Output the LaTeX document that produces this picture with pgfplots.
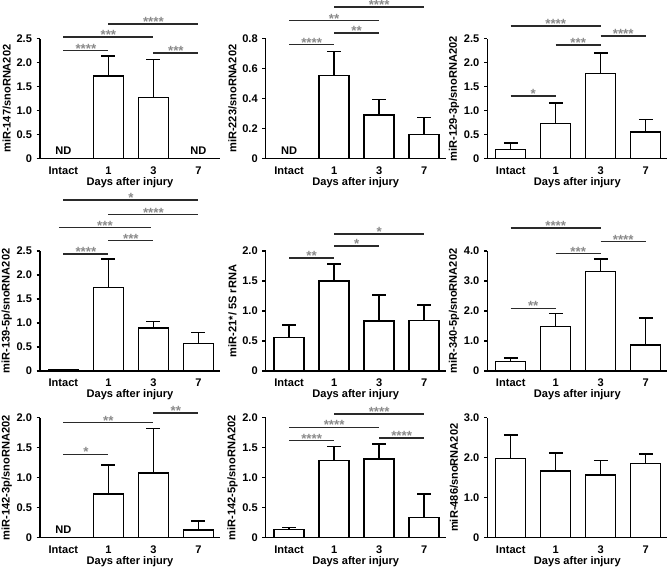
\documentclass[border=0pt]{standalone}
\usepackage{pgfplots}
\pgfplotsset{compat=1.18}
\usepackage{fontspec}
\setmainfont{Liberation Sans}
\definecolor{stargray}{HTML}{8A8A8A}
\definecolor{linegray}{HTML}{2A2A2A}
\newcommand{\lf}{\bfseries\fontsize{8.3}{9}\selectfont}
\newcommand{\starfont}{\bfseries\fontsize{10}{10}\selectfont}
\newcommand{\sig}[4]{\draw[linegray, line width=1.1pt] (axis cs:#1,#3) -- (axis cs:#2,#3) node[midway, anchor=base, yshift=-2pt, inner sep=0pt, text=stargray, font=\starfont] {#4};}
\newcommand{\nd}[1]{\node[anchor=base, font=\lf, inner sep=0pt] at (axis cs:#1,0) [yshift=3pt] {ND};}
\pgfplotsset{
  panel/.style={
    scale only axis, width=135pt, height=90pt,
    anchor=south west,
    xmin=-0.52, xmax=3.48, ymin=0,
    axis lines*=left,
    axis line style={line width=1.1pt},
    xtick={0,1,2,3}, xticklabels={Intact,1,3,7},
    major x tick style={draw=none},
    tick align=outside, major tick length=2.5pt,
    major y tick style={line width=1.1pt, black},
    ticklabel style={font=\lf},
    /pgf/number format/assume math mode=true,
    xlabel={Days after injury},
    every axis x label/.style={at={(axis description cs:0.5,0)}, yshift=-18pt, anchor=center, font=\lf},
    every axis y label/.style={at={(axis description cs:0,0.5)}, xshift=-25pt, rotate=90, anchor=center, font=\lf},
    clip=false,
    ybar, bar width=0.667,
  },
  barplot/.style={fill=white, draw=black, line width=1.1pt,
    error bars/.cd, y dir=plus, y explicit,
    error bar style={line width=1.1pt, black},
    error mark options={rotate=90, mark size=5.2pt, line width=1.1pt, black}},
}
\begin{document}
\begin{tikzpicture}
\useasboundingbox (0,0) rectangle (504pt,426pt);
% Panel 1
\begin{axis}[panel, at={(30pt,307pt)}, ymax=2.5, ytick={0,0.5,1,1.5,2,2.5}, yticklabels={0,0.5,1.0,1.5,2.0,2.5}, ylabel={miR-147/snoRNA202}]
\addplot[barplot] coordinates {(1,1.72) +- (0,0.42) (2,1.27) +- (0,0.80)};
\nd{0}\nd{3}
\sig{0}{1}{2.25}{****}
\sig{0}{2}{2.53}{***}
\sig{1}{3}{2.81}{****}
\sig{2}{3}{2.20}{***}
\end{axis}
% Panel 2
\begin{axis}[panel, at={(199.3pt,307pt)}, ymax=0.8, ytick={0,0.2,0.4,0.6,0.8}, yticklabels={0,0.2,0.4,0.6,0.8}, ylabel={miR-223/snoRNA202}]
\addplot[barplot] coordinates {(1,0.554) +- (0,0.162) (2,0.29) +- (0,0.104) (3,0.16) +- (0,0.113)};
\nd{0}
\sig{0}{1}{0.76}{****}
\sig{0}{2}{0.92}{**}
\sig{1}{2}{0.837}{**}
\sig{1}{3}{1.01}{****}
\end{axis}
% Panel 3
\begin{axis}[panel, at={(365.5pt,307pt)}, ymax=2.5, ytick={0,0.5,1,1.5,2,2.5}, yticklabels={0,0.5,1.0,1.5,2.0,2.5}, ylabel={miR-129-3p/snoRNA202}]
\addplot[barplot] coordinates {(0,0.19) +- (0,0.14) (1,0.73) +- (0,0.43) (2,1.77) +- (0,0.43) (3,0.56) +- (0,0.26)};
\sig{0}{2}{2.76}{****}
\sig{1}{2}{2.37}{***}
\sig{2}{3}{2.56}{****}
\sig{0}{1}{1.31}{*}
\end{axis}
% Panel 4
\begin{axis}[panel, at={(30pt,147.75pt)}, ymax=2.5, ytick={0,0.5,1,1.5,2,2.5}, yticklabels={0,0.5,1.0,1.5,2.0,2.5}, ylabel={miR-139-5p/snoRNA202}]
\addplot[barplot] coordinates {(0,0.02) +- (0,0.015) (1,1.74) +- (0,0.59) (2,0.90) +- (0,0.13) (3,0.57) +- (0,0.23)};
\sig{0}{1}{2.44}{****}
\sig{1}{2}{2.72}{***}
\sig{-0.1}{1.95}{2.99}{***}
\sig{1}{3}{3.26}{****}
\sig{0}{3}{3.56}{*}
\end{axis}
% Panel 5
\begin{axis}[panel, at={(199.3pt,147.75pt)}, ymax=2.0, ytick={0,0.5,1,1.5,2}, yticklabels={0,0.5,1.0,1.5,2.0}, ylabel={miR-21*/ 5S rRNA}]
\addplot[barplot] coordinates {(0,0.56) +- (0,0.21) (1,1.50) +- (0,0.28) (2,0.83) +- (0,0.44) (3,0.84) +- (0,0.26)};
\sig{0}{1}{1.88}{**}
\sig{1}{2}{2.08}{*}
\sig{1}{3}{2.28}{*}
\end{axis}
% Panel 6
\begin{axis}[panel, at={(365.5pt,147.75pt)}, ymax=4.0, ytick={0,1,2,3,4}, yticklabels={0,1.0,2.0,3.0,4.0}, ylabel={miR-340-5p/snoRNA202}]
\addplot[barplot] coordinates {(0,0.31) +- (0,0.13) (1,1.49) +- (0,0.43) (2,3.32) +- (0,0.41) (3,0.86) +- (0,0.90)};
\sig{0}{2}{4.76}{****}
\sig{1}{2}{3.91}{***}
\sig{2}{3}{4.31}{****}
\sig{0}{1}{2.09}{**}
\end{axis}
% Panel 7
\begin{axis}[panel, at={(30pt,22.7pt)}, ymax=2.0, ytick={0,0.5,1,1.5,2}, yticklabels={0,0.5,1.0,1.5,2.0}, ylabel={miR-142-3p/snoRNA202}]
\addplot[barplot] coordinates {(1,0.73) +- (0,0.48) (2,1.08) +- (0,0.74) (3,0.13) +- (0,0.15)};
\nd{0}
\sig{0}{2}{1.92}{**}
\sig{2}{3}{2.08}{**}
\sig{0}{1}{1.39}{*}
\end{axis}
% Panel 8
\begin{axis}[panel, at={(199.3pt,22.7pt)}, ymax=2.0, ytick={0,0.5,1,1.5,2}, yticklabels={0,0.5,1.0,1.5,2.0}, ylabel={miR-142-5p/snoRNA202}]
\addplot[barplot] coordinates {(0,0.14) +- (0,0.03) (1,1.29) +- (0,0.23) (2,1.31) +- (0,0.25) (3,0.34) +- (0,0.39)};
\sig{0}{2}{1.84}{****}
\sig{0}{1}{1.62}{****}
\sig{1}{3}{2.06}{****}
\sig{2}{3}{1.66}{****}
\end{axis}
% Panel 9
\begin{axis}[panel, at={(365.5pt,22.7pt)}, ymax=3.0, ytick={0,1,2,3}, yticklabels={0,1.0,2.0,3.0}, ylabel={miR-486/snoRNA202}]
\addplot[barplot] coordinates {(0,1.98) +- (0,0.59) (1,1.67) +- (0,0.45) (2,1.57) +- (0,0.36) (3,1.85) +- (0,0.24)};
\end{axis}
\end{tikzpicture}
\end{document}
